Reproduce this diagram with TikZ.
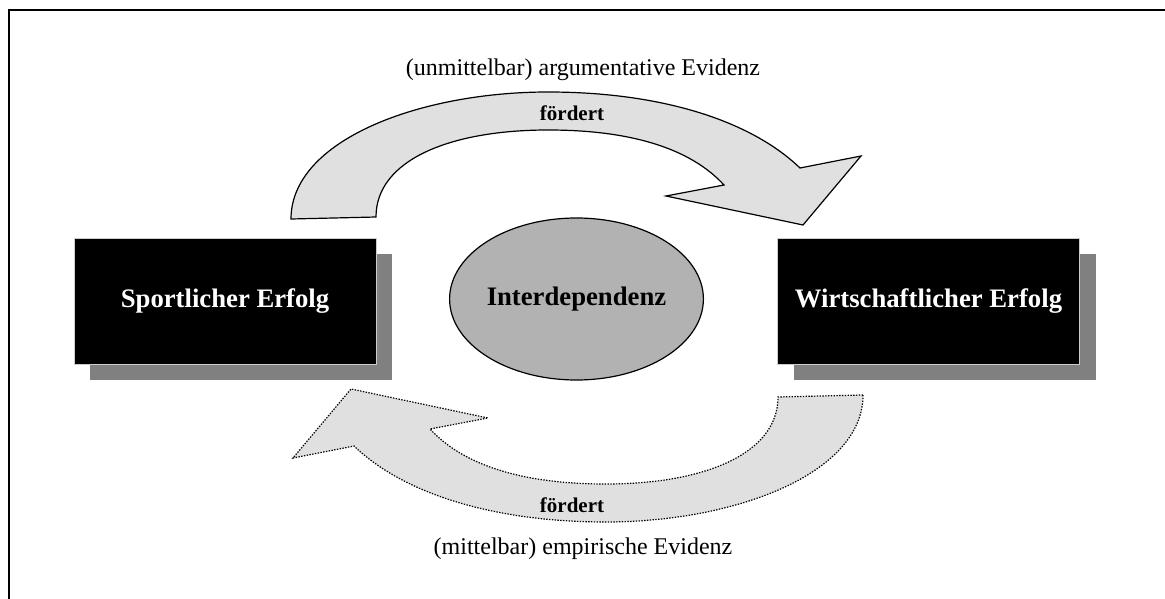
\documentclass[tikz,border=0pt]{standalone}
\usepackage{fontspec}
\setmainfont{Liberation Serif}
\usepackage{tikz}
\usetikzlibrary{shapes.geometric}
\usetikzlibrary{shadows}
\definecolor{pfeilgrau}{gray}{0.88}
\definecolor{schattengrau}{gray}{0.5}
\definecolor{kerngrau}{gray}{0.7}
\tikzstyle{erfolg} = [rectangle, fill=black, draw=white!80!black, line width=0.8pt, minimum width=302pt, minimum height=126pt, inner sep=0pt, text=white, font=\fontsize{26.7}{30}\selectfont\bfseries, drop shadow={shadow xshift=16pt, shadow yshift=-16pt, fill=schattengrau, opacity=1}]
\tikzstyle{kern} = [ellipse, fill=kerngrau, draw=black, line width=1.2pt, minimum width=226pt, minimum height=162pt, inner sep=0pt, font=\fontsize{26.7}{30}\selectfont\bfseries]
\tikzstyle{bogen} = [fill=pfeilgrau, draw=black, line width=1.2pt, line join=miter]
\tikzstyle{evidenz} = [inner sep=0pt, font=\fontsize{24}{28}\selectfont]
\tikzstyle{foerdert} = [inner sep=0pt, font=\fontsize{21}{24}\selectfont\bfseries]
% gebogener Blockpfeil, Spitze rechts
\newcommand{\bogenpfad}{(291,219) .. controls (291,140) and (420,92) .. (548,92)
	.. controls (660,92) and (750,120) .. (800,168) -- (861,156) -- (803,225)
	-- (666,196) -- (724,185) .. controls (690,148) and (630,130) .. (548,130)
	.. controls (450,130) and (376,160) .. (376,217) -- cycle}

\begin{document}
\begin{tikzpicture}[x=1pt,y=-1pt]
			\clip (0,0) rectangle (1165,599);
			\draw[line width=2pt] (1170,10) -- (9,10) -- (9,610);
			
			\node[erfolg] (sport) at (225,301) {Sportlicher Erfolg};
			\node[erfolg] (wirtschaft) at (928.5,301) {Wirtschaftlicher Erfolg};
			\node[kern] (inter) at (576.5,299) {Interdependenz};
			
			\draw[bogen] \bogenpfad;
			\begin{scope}[rotate around={180:(577,307)}]
				\draw[bogen, dash pattern=on 1.4pt off 1.4pt] \bogenpfad;
			\end{scope}
			
			\node[evidenz] (argument) at (583,70) {(unmittelbar) argumentative Evidenz};
			\node[foerdert] (foerdertoben) at (572,113) {fördert};
			\node[foerdert] (foerdertunten) at (572,505) {fördert};
			\node[evidenz] (empirie) at (583,549) {(mittelbar) empirische Evidenz};
		\end{tikzpicture}
\end{document}
